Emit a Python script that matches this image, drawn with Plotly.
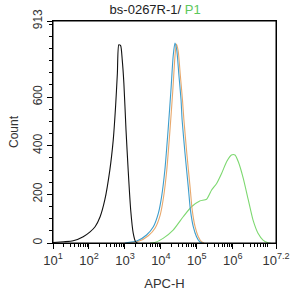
import numpy as np
import plotly.graph_objects as go

# ---- data (log10 of APC-H, counts) ----
black_logx = [1.0, 1.3, 1.56, 1.84, 2.03, 2.17, 2.31, 2.44, 2.58, 2.675, 2.74, 2.79, 2.83, 2.88, 2.925, 2.97, 3.03, 3.09, 3.16, 3.23, 3.30, 3.35]
black_count = [2, 5, 9, 26, 46, 67, 108, 177, 300, 424, 561, 698, 815, 812, 753, 658, 465, 300, 136, 41, 4, 0]

blue_logx = [3.0, 3.05, 3.33, 3.60, 3.79, 3.93, 4.02, 4.11, 4.20, 4.28, 4.34, 4.39, 4.44, 4.50, 4.56, 4.59, 4.67, 4.76, 4.82, 4.90, 4.99, 5.08, 5.15]
blue_count = [0, 1, 8, 33, 67, 123, 191, 300, 465, 630, 767, 822, 794, 691, 588, 506, 369, 232, 136, 67, 26, 5, 0]

orange_logx = [3.05, 3.1, 3.38, 3.65, 3.84, 3.98, 4.07, 4.16, 4.25, 4.33, 4.39, 4.43, 4.48, 4.54, 4.60, 4.64, 4.72, 4.81, 4.87, 4.95, 5.04, 5.13, 5.2]
orange_count = [0, 1, 7, 30, 62, 115, 185, 295, 460, 625, 765, 818, 790, 690, 588, 506, 369, 232, 136, 67, 26, 5, 0]

green_logx = [3.7, 3.83, 4.06, 4.34, 4.62, 4.85, 5.08, 5.27, 5.41, 5.55, 5.69, 5.83, 5.96, 6.06, 6.15, 6.29, 6.43, 6.56, 6.70, 6.84, 6.98, 7.05]
green_count = [0, 2, 19, 53, 108, 149, 173, 180, 218, 245, 287, 335, 362, 362, 335, 266, 177, 95, 40, 12, 1, 0]

x_tick_exp = [1, 2, 3, 4, 5, 6, 7.2]
x_tick_text = ["10<sup>1</sup>", "10<sup>2</sup>", "10<sup>3</sup>", "10<sup>4</sup>",
               "10<sup>5</sup>", "10<sup>6</sup>", "10<sup>7.2</sup>"]
y_tick_vals = [0, 200, 400, 600, 913]
y_tick_text = ["0", "200", "400", "600", "913"]

title_text = "bs-0267R-1/ "
gate_text = "P1"

FONT = "Liberation Sans, Arial, sans-serif"

fig = go.Figure()
series = [
    (green_logx, green_count, "#7dd870"),
    (orange_logx, orange_count, "#e8a86c"),
    (blue_logx, blue_count, "#3d9dcc"),
    (black_logx, black_count, "#111111"),
]
for lx, cnt, col in series:
    fig.add_trace(go.Scatter(
        x=10 ** np.array(lx), y=cnt, mode="lines",
        line=dict(color=col, width=1.1, shape="spline", smoothing=0.6),
        showlegend=False, hoverinfo="skip"))

minor_x = [m * 10 ** k for k in range(1, 8) for m in range(2, 10) if m * 10 ** k < 10 ** 7.2]
# keep the last major tick a hair inside the range so it is not dropped
x_tick_vals = [10 ** min(e, 7.1999) for e in x_tick_exp]

fig.update_layout(
    width=290, height=296,
    margin=dict(l=53, r=14, t=21, b=53),
    paper_bgcolor="white", plot_bgcolor="white",
    font=dict(family=FONT, size=12, color="#333333"),
    title=dict(
        text=title_text + "<span style='color:#5cc85c'>" + gate_text + "</span>",
        xref="container", x=0.535, xanchor="center", y=1 - 9 / 296, yanchor="middle",
        font=dict(family=FONT, size=13, color="#222222")),
    xaxis=dict(
        type="log", range=[1, 7.2], automargin=False,
        tickvals=x_tick_vals, ticktext=x_tick_text,
        ticks="outside", ticklen=5, tickcolor="black", tickwidth=1,
        showline=True, linecolor="black", linewidth=1, mirror=True,
        showgrid=False, zeroline=False,
        tickfont=dict(size=13, color="#333333"),
        minor=dict(tickvals=minor_x, ticks="outside", ticklen=3, tickcolor="black", showgrid=False),
        title=dict(text="APC-H", font=dict(size=13, color="#333333"), standoff=12),
    ),
    yaxis=dict(
        range=[0, 913], automargin=False,
        tickvals=y_tick_vals, ticktext=y_tick_text, tickangle=-90,
        ticks="outside", ticklen=5, tickcolor="black", tickwidth=1,
        showline=True, linecolor="black", linewidth=1, mirror=True,
        showgrid=False, zeroline=False,
        tickfont=dict(size=12, color="#333333"),
        minor=dict(dtick=50, tick0=0, ticks="outside", ticklen=3, tickcolor="black", showgrid=False),
        title=dict(text="Count", font=dict(size=12, color="#333333"), standoff=10),
    ),
    shapes=[dict(type="rect", xref="paper", yref="paper", x0=0, y0=0, x1=1, y1=1,
                 line=dict(color="black", width=1), fillcolor="rgba(0,0,0,0)", layer="above")],
)

fig.write_html("out.html")
